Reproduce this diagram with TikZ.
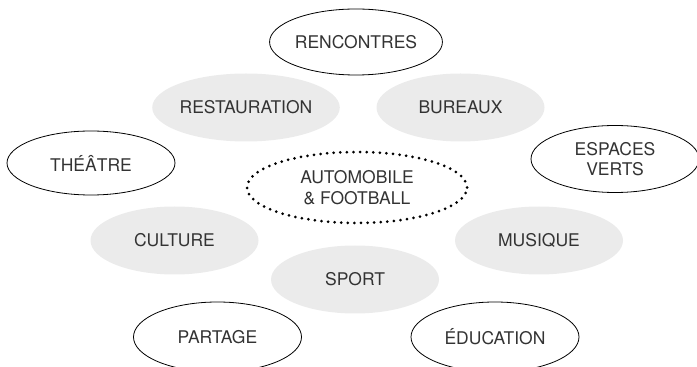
\documentclass[tikz,border=0pt]{standalone}
\usepackage{fontspec}
\setmainfont{TeX Gyre Heros}
\usetikzlibrary{shapes.geometric}
\definecolor{fillgray}{HTML}{EBEBEB}
\definecolor{txt}{HTML}{333333}
\tikzset{
  base/.style={ellipse, inner sep=0pt, minimum width=168pt, minimum height=68pt,
    text=txt, font=\fontsize{17.5}{20.5}\selectfont, align=center},
  graybox/.style={base, fill=fillgray},
  outlinebox/.style={base, draw=black, line width=0.8pt, minimum height=64pt},
  centerbox/.style={base, draw=black, line width=3pt, line cap=round,
    dash pattern=on 0pt off 6.6pt, minimum width=220pt, minimum height=71pt}
}
\begin{document}
\begin{tikzpicture}[x=1pt,y=1pt]
\useasboundingbox (0,0) rectangle (697,367);
\node[graybox] (rest) at (246,259.5) {RESTAURATION};
\node[graybox] (bur) at (460.5,259.5) {BUREAUX};
\node[graybox] (cult) at (174.5,126.5) {CULTURE};
\node[graybox] (mus) at (539,126.5) {MUSIQUE};
\node[graybox] (sport) at (355,87.5) {SPORT};
\node[outlinebox, minimum height=66pt] (renc) at (356,325) {RENCONTRES};
\node[outlinebox] (theatre) at (91,204) {THÉÂTRE};
\node[outlinebox, minimum height=67pt] (esp) at (615,208) {ESPACES\\VERTS};
\node[outlinebox, minimum height=70pt] (part) at (217.5,30) {PARTAGE};
\node[outlinebox, minimum height=70pt] (educ) at (495,30) {ÉDUCATION};
\node[centerbox] (auto) at (357,179.5) {AUTOMOBILE\\\&~FOOTBALL};
\end{tikzpicture}
\end{document}
